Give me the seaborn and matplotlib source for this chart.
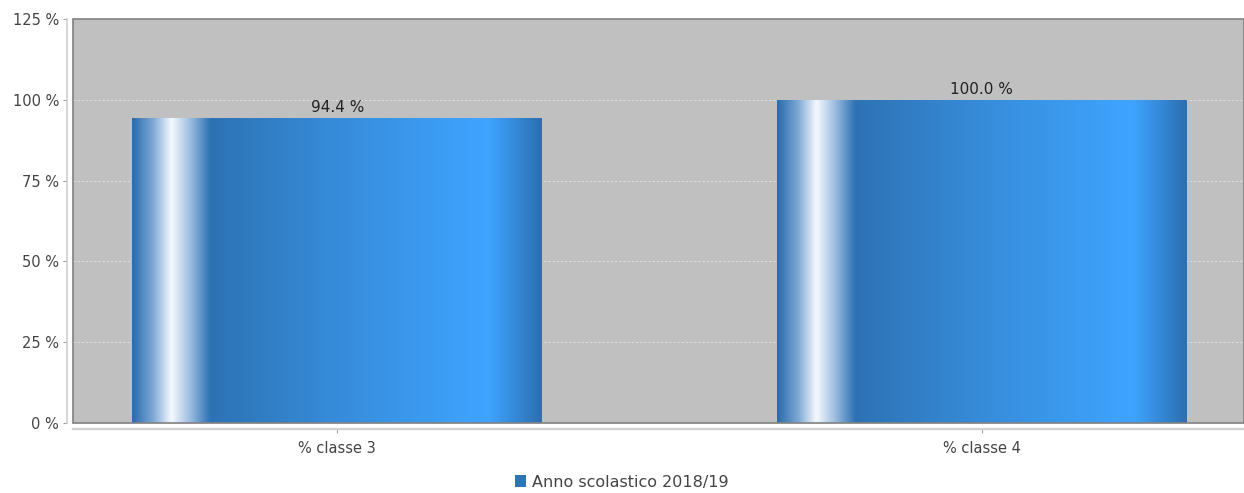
import numpy as np
import pandas as pd
import matplotlib
matplotlib.use("Agg")
import matplotlib.pyplot as plt
import seaborn as sns
from matplotlib.colors import LinearSegmentedColormap
from matplotlib.patches import Patch, Rectangle

categories = ["% classe 3", "% classe 4"]
values = [94.4, 100.0]
series_name = "Anno scolastico 2018/19"
y_ticks = [0, 25, 50, 75, 100, 125]

df = pd.DataFrame({"categoria": categories, "valore": values})

sns.set_style("white")
plt.rcParams["font.family"] = ["DejaVu Sans"]

fig = plt.figure(figsize=(12.44, 4.93), dpi=100)
ax = fig.add_axes([73 / 1244, 70 / 493, 1 - 73 / 1244, 404 / 493])
ax.set_facecolor("#C0C0C0")

sns.barplot(data=df, x="categoria", y="valore", ax=ax, width=0.636,
            color="#2E75B6", saturation=1, zorder=3)

# gradient fill like the original chart
grad = LinearSegmentedColormap.from_list("barra", [
    (0.0, "#2C6CAE"), (0.05, "#7DA8D5"), (0.095, "#F6FAFF"),
    (0.14, "#9DBDE0"), (0.19, "#2E72B4"), (0.5, "#378CD9"),
    (0.87, "#3FA4FF"), (1.0, "#2D6FB0")])
g = np.linspace(0, 1, 256).reshape(1, -1)
for p in ax.patches:
    x0, y0 = p.get_x(), p.get_y()
    w, h = p.get_width(), p.get_height()
    im = ax.imshow(g, cmap=grad, aspect="auto", extent=(x0, x0 + w, y0, y0 + h),
                   zorder=3, interpolation="bilinear")
    im.set_clip_path(p)
    p.set_facecolor("none")
    p.set_edgecolor("none")
    ax.text(x0 + w / 2, y0 + h + 1.0, f"{h:.1f} %", ha="center", va="bottom",
            fontsize=11, color="#222222", zorder=4)

ax.set_xlim(-0.41, 1.407)
ax.set_ylim(0, 125)
ax.set_yticks(y_ticks)
ax.set_yticklabels([f"{t} %" for t in y_ticks])
ax.set_xlabel("")
ax.set_ylabel("")

ax.grid(axis="y", color="#E4E4E4", linestyle=(0, (2.5, 2.5)), linewidth=0.6, zorder=1)
ax.set_axisbelow(True)

for s in ["top", "right"]:
    ax.spines[s].set_visible(False)
ax.spines["left"].set_position(("outward", 4))
ax.spines["bottom"].set_position(("outward", 4))
ax.spines["left"].set_color("#D0D0D0")
ax.spines["bottom"].set_color("#D0D0D0")
ax.spines["left"].set_linewidth(1.2)
ax.spines["bottom"].set_linewidth(1.6)

ax.add_patch(Rectangle((0, 0), 1, 1, transform=ax.transAxes, fill=False,
                       edgecolor="#808080", linewidth=1.2, zorder=5, clip_on=False))

ax.tick_params(axis="both", length=3, width=0.8, color="#A0A0A0",
               labelsize=10.5, labelcolor="#444444", pad=3)
ax.tick_params(axis="x", bottom=True, pad=6)
ax.tick_params(axis="y", left=True)

handles = [Patch(facecolor="#2E75B6", edgecolor="none", label=series_name)]
fig.legend(handles=handles, loc="center", bbox_to_anchor=(0.5, 11 / 493),
           frameon=False, fontsize=11.5, handlelength=0.7, handleheight=0.7,
           handletextpad=0.4, labelcolor="#444444")

fig.savefig("out.png", dpi=100)
